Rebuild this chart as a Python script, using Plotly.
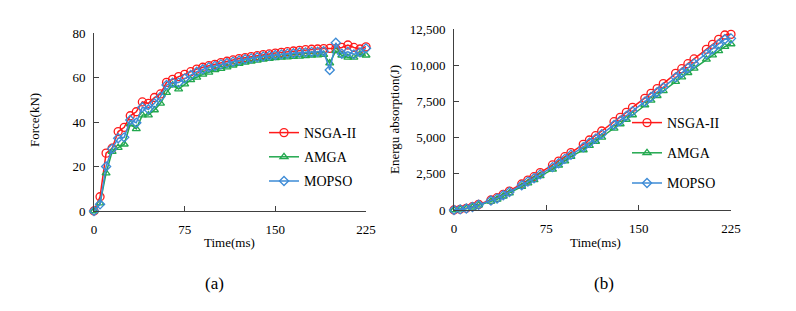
import plotly.graph_objects as go

# ---------------- data ----------------
time_force = [0, 5, 10, 15, 20, 25, 30, 35, 40, 45, 50, 55, 60, 65, 70, 75, 80, 85, 90, 95,
              100, 105, 110, 115, 120, 125, 130, 135, 140, 145, 150, 155, 160, 165, 170, 175,
              180, 185, 190, 195, 200, 205, 210, 215, 220, 225]

force_nsga = [0, 6.4, 26.0, 28.2, 35.7, 37.6, 42.8, 44.6, 49.0, 48.4, 51.0, 52.6, 57.8, 59.2,
              60.4, 61.4, 62.6, 63.8, 64.6, 65.3, 65.9, 66.7, 67.3, 67.9, 68.5, 68.9, 69.4,
              69.8, 70.3, 70.6, 71.0, 71.3, 71.6, 71.9, 72.2, 72.5, 72.7, 72.8, 73.0, 73.1,
              73.0, 73.5, 74.6, 73.5, 72.8, 73.8]
force_amga = [0, 3.5, 17.0, 26.7, 28.5, 30.0, 39.0, 36.9, 43.1, 43.1, 45.4, 48.4, 53.2, 56.6,
              54.8, 57.0, 58.9, 60.1, 61.4, 62.3, 63.4, 64.0, 64.7, 65.5, 66.2, 66.8, 67.3,
              67.7, 68.2, 68.5, 68.8, 69.0, 69.2, 69.4, 69.5, 69.7, 70.0, 70.1, 70.3, 66.5,
              72.0, 70.0, 69.0, 69.0, 70.5, 70.0]
force_mopso = [0, 3.0, 20.0, 28.0, 32.7, 33.1, 40.9, 39.7, 46.6, 45.7, 48.4, 51.4, 56.6, 57.7,
               57.7, 59.6, 61.1, 62.6, 63.7, 64.6, 65.2, 65.9, 66.5, 67.1, 67.6, 68.2, 68.6,
               69.1, 69.4, 69.8, 70.1, 70.4, 70.7, 70.9, 71.2, 71.3, 71.5, 71.6, 71.8, 63.4,
               75.6, 70.7, 71.6, 70.4, 71.3, 73.1]

time_energy = [0, 5, 10, 15, 20, 30, 35, 40, 45, 55, 60, 65, 70, 80, 85, 90, 95, 105, 110, 115,
               120, 130, 135, 140, 145, 155, 160, 165, 170, 180, 185, 190, 195, 205, 210, 215,
               220, 225]
energy_nsga = [0, 50, 115, 230, 390, 690, 850, 1080, 1310, 1795, 2070, 2300, 2580, 3110, 3380,
               3680, 3960, 4535, 4835, 5130, 5455, 6100, 6400, 6745, 7090, 7710, 8057, 8380,
               8725, 9440, 9760, 10106, 10430, 11095, 11440, 11790, 12085, 12130]
energy_amga = [0, 40, 95, 190, 330, 600, 740, 950, 1160, 1610, 1850, 2080, 2350, 2810, 3080,
               3380, 3680, 4145, 4440, 4730, 5020, 5640, 5940, 6250, 6560, 7250, 7570, 7890,
               8220, 8860, 9170, 9480, 9780, 10405, 10690, 10990, 11280, 11465]
energy_mopso = [0, 45, 105, 210, 360, 650, 800, 1020, 1240, 1710, 1960, 2190, 2460, 2960, 3230,
                3530, 3820, 4340, 4640, 4930, 5240, 5870, 6170, 6500, 6830, 7480, 7810, 8130,
                8470, 9160, 9480, 9810, 10120, 10760, 11100, 11450, 11790, 11850]

series_names = ["NSGA-II", "AMGA", "MOPSO"]
force_ticks = [0, 20, 40, 60, 80]
energy_ticks = [0, 2500, 5000, 7500, 10000, 12500]
time_ticks = [0, 75, 150, 225]

# ---------------- styles ----------------
W, H = 796, 311
FONT = "Liberation Serif"
colors = ["#FF1A1A", "#22A84E", "#3D8BD6"]
symbols = ["circle-open", "triangle-up-open", "diamond-open"]
msizes = [8, 7, 7]

fig = go.Figure()

force_series = [force_nsga, force_amga, force_mopso]
energy_series = [energy_nsga, energy_amga, energy_mopso]

for i, name in enumerate(series_names):
    fig.add_trace(go.Scatter(
        x=time_force, y=force_series[i], name=name, mode="lines+markers",
        line=dict(color=colors[i], width=1.5),
        marker=dict(symbol=symbols[i], size=msizes[i], color=colors[i],
                    line=dict(width=1.3, color=colors[i])),
        xaxis="x", yaxis="y", legend="legend", legendgroup="a" + str(i),
        cliponaxis=False))
for i, name in enumerate(series_names):
    fig.add_trace(go.Scatter(
        x=time_energy, y=energy_series[i], name=name, mode="lines+markers",
        line=dict(color=colors[i], width=1.5),
        marker=dict(symbol=symbols[i], size=msizes[i], color=colors[i],
                    line=dict(width=1.3, color=colors[i])),
        xaxis="x2", yaxis="y2", legend="legend2", legendgroup="b" + str(i),
        cliponaxis=False))

axis_common = dict(
    showgrid=False, zeroline=False, showline=True, linecolor="#404040", linewidth=1,
    ticks="inside", ticklen=5, tickcolor="#404040", tickwidth=1, automargin=False,
    tickfont=dict(family=FONT, size=13, color="#000000"),
)

def py(v):
    return (H - v) / H

fig.update_layout(
    width=W, height=H,
    margin=dict(l=0, r=0, t=0, b=0, autoexpand=False),
    paper_bgcolor="white", plot_bgcolor="white",
    font=dict(family=FONT, color="#000000"),
    xaxis=dict(domain=[94 / W, 366 / W], range=[0, 225], tickvals=time_ticks,
               anchor="y", ticklabelstandoff=6, **axis_common),
    yaxis=dict(domain=[py(211), py(33)], range=[0, 80], tickvals=force_ticks,
               anchor="x", ticklabelstandoff=5, **axis_common),
    xaxis2=dict(domain=[454 / W, 731 / W], range=[0, 225], tickvals=time_ticks,
                anchor="y2", ticklabelstandoff=6, **axis_common),
    yaxis2=dict(domain=[py(210), py(29)], range=[0, 12500], tickvals=energy_ticks,
                tickformat=",d", anchor="x2", ticklabelstandoff=5, **axis_common),
    legend=dict(x=264 / W, y=py(117), xanchor="left", yanchor="top",
                font=dict(family=FONT, size=14, color="#000000"),
                bgcolor="rgba(0,0,0,0)", tracegroupgap=3, itemwidth=30),
    legend2=dict(x=627 / W, y=py(107), xanchor="left", yanchor="top",
                 font=dict(family=FONT, size=14, color="#000000"),
                 bgcolor="rgba(0,0,0,0)", tracegroupgap=9, itemwidth=30),
    showlegend=True,
)

annotations = [
    dict(text="Force(kN)", x=34 / W, y=py(120), textangle=-90, font=dict(size=13)),
    dict(text="Energu absorption(J)", x=394 / W, y=py(120), textangle=-90, font=dict(size=13)),
    dict(text="Time(ms)", x=230 / W, y=py(242), font=dict(size=13)),
    dict(text="Time(ms)", x=595 / W, y=py(242), font=dict(size=13)),
    dict(text="(a)", x=214 / W, y=py(283), font=dict(size=17)),
    dict(text="(b)", x=604 / W, y=py(283), font=dict(size=17)),
]
for a in annotations:
    a.update(xref="paper", yref="paper", showarrow=False, xanchor="center", yanchor="middle")
    a["font"].update(family=FONT, color="#000000")
fig.update_layout(annotations=annotations)

fig.write_html("out.html", config={"displayModeBar": False},
               post_script="document.body.style.margin='0';document.body.style.padding='0';")
